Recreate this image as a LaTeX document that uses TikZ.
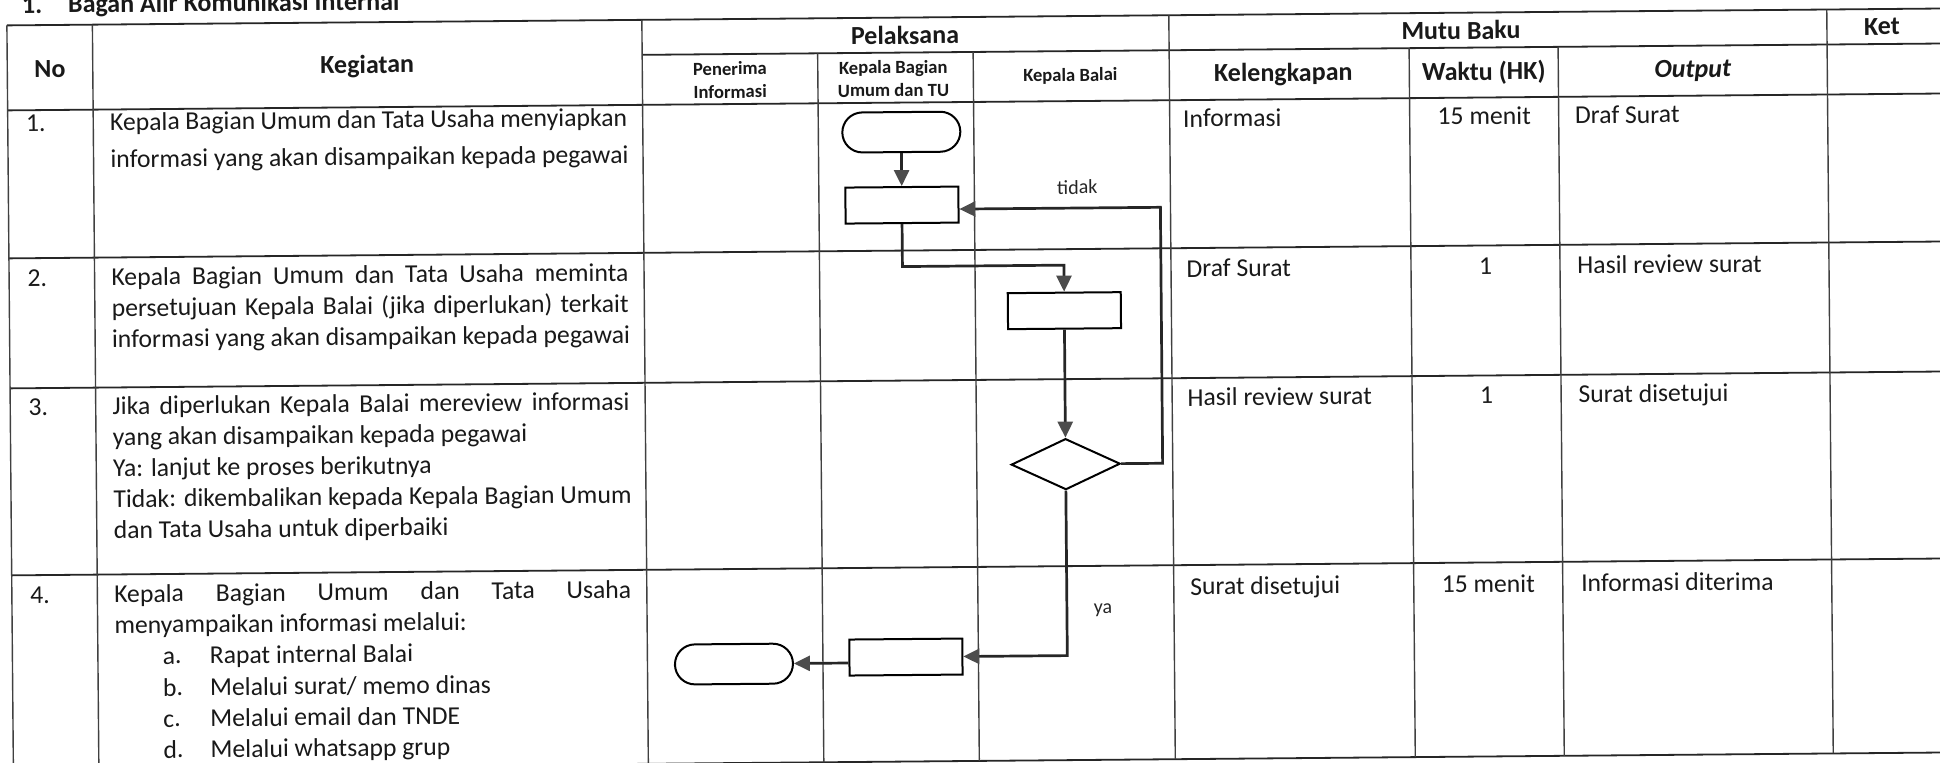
\documentclass[tikz,border=0pt]{standalone}
\usepackage{fontspec}
\setmainfont{Carlito}
\usetikzlibrary{arrows.meta,shapes.geometric}
\newcommand{\fBody}{\fontsize{12.85pt}{15.5pt}\selectfont}
\newcommand{\fHead}{\fontsize{13pt}{15.5pt}\selectfont\bfseries}
\newcommand{\fSub}{\fontsize{9.3pt}{11.5pt}\selectfont\bfseries}
\newcommand{\fLbl}{\fontsize{10pt}{12pt}\selectfont}
\newcommand{\jline}[1]{\makebox[258.5pt][s]{#1}}
\begin{document}
\begin{tikzpicture}[x=0.5pt,y=-0.5pt,
 hline/.style={draw=black!85, line width=0.9pt},
 vline/.style={draw=black!75, line width=0.7pt},
 txt/.style={anchor=base west, inner sep=0pt, font=\fBody, text=black!90},
 ctxt/.style={anchor=base, inner sep=0pt, font=\fBody, text=black!90},
 hdr/.style={anchor=center, inner sep=0pt, font=\fHead, text=black!90, align=center},
 subhdr/.style={anchor=center, inner sep=0pt, font=\fSub, text=black!90, align=center},
 lbl/.style={anchor=center, inner sep=0pt, font=\fLbl, text=black!85},
 termbox/.style={draw=black, line width=1pt, rounded corners=10pt, minimum width=59pt, minimum height=20pt, inner sep=0pt},
 procbox/.style={draw=black, line width=1pt, minimum width=56.5pt, minimum height=18pt, inner sep=0pt},
 decbox/.style={draw=black, line width=1pt, diamond, aspect=2.14, minimum width=54.5pt, minimum height=25.5pt, inner sep=0pt},
 flow/.style={draw=black!85, line width=1.35pt, -{Triangle[length=8pt,width=7.5pt,color=black!70]}},
]
\useasboundingbox (0,0) rectangle (1940,763);
\fill[white] (0,0) rectangle (1940,763);
\begin{scope}[rotate around={0.5:(970,381)}, transform shape]
% title
\node[txt, font=\fHead] (title1) at (25,5) {1.};
\node[txt, font=\fHead] (title2) at (71,5) {Bagan Alir Komunikasi Internal};
% table lines
\draw[hline] (10,17) -- (1960,17);
\draw[hline] (645,52) -- (1960,52);
\draw[hline] (10,102) -- (1960,102);
\draw[hline] (10,250) -- (1960,250);
\draw[hline] (10,380) -- (1960,380);
\draw[hline] (10,567) -- (1960,567);
\draw[hline] (10,761) -- (1960,761);
\draw[vline] (10,17) -- (10,761);
\draw[vline] (95.5,17) -- (95.5,761);
\draw[vline] (645,17) -- (645,761);
\draw[vline] (820.5,52) -- (820.5,761);
\draw[vline] (976,52) -- (976,761);
\draw[vline] (1172,17) -- (1172,761);
\draw[vline] (1412,52) -- (1412,761);
\draw[vline] (1561,52) -- (1561,761);
\draw[vline] (1830,17) -- (1830,761);
% headers
\node[hdr] (hNo) at (52.7,61) {No};
\node[hdr] (hKeg) at (370,61) {Kegiatan};
\node[hdr] (hPel) at (908,34.5) {Pelaksana};
\node[hdr] (hMutu) at (1464,34.5) {Mutu Baku};
\node[hdr] (hKet) at (1885,34.5) {Ket};
\node[subhdr] (hPen) at (732.7,78) {Penerima\\Informasi};
\node[subhdr] (hKB) at (896,78) {Kepala Bagian\\Umum dan TU};
\node[subhdr] (hBal) at (1073,77) {Kepala Balai};
\node[hdr] (hKel) at (1286,77) {Kelengkapan};
\node[hdr] (hWak) at (1486.5,77) {Waktu (HK)};
\node[hdr] (hOut) at (1695.5,77) {\itshape Output};
% row 1
\node[txt] (n1) at (28,123) {1.};
\node[txt] (t1a) at (112,123) {\jline{Kepala Bagian Umum dan Tata Usaha menyiapkan}};
\node[txt] (t1b) at (112,160) {informasi yang akan disampaikan kepada pegawai};
\node[txt] (k1) at (1185,129) {Informasi};
\node[ctxt] (w1) at (1486.5,129) {15 menit};
\node[txt] (o1) at (1577,129) {Draf Surat};
% row 2
\node[txt] (n2) at (28,278) {2.};
\node[txt] (t2a) at (112,278) {\jline{Kepala Bagian Umum dan Tata Usaha meminta}};
\node[txt] (t2b) at (112,309) {\jline{persetujuan Kepala Balai (jika diperlukan) terkait}};
\node[txt] (t2c) at (112,340) {informasi yang akan disampaikan kepada pegawai};
\node[txt] (k2) at (1187,279) {Draf Surat};
\node[ctxt] (w2) at (1486.5,279) {1};
\node[txt] (o2) at (1578,279) {Hasil review surat};
% row 3
\node[txt] (n3) at (28,407) {3.};
\node[txt] (t3a) at (112,407) {\jline{Jika diperlukan Kepala Balai mereview informasi}};
\node[txt] (t3b) at (112,438) {yang akan disampaikan kepada pegawai};
\node[txt] (t3c) at (112,469) {Ya: lanjut ke proses berikutnya};
\node[txt] (t3d) at (112,500) {Tidak: dikembalikan kepada Kepala Bagian Umum};
\node[txt] (t3e) at (112,531) {dan Tata Usaha untuk diperbaiki};
\node[txt] (k3) at (1187,408) {Hasil review surat};
\node[ctxt] (w3) at (1486.5,408) {1};
\node[txt] (o3) at (1578,408) {Surat disetujui};
% row 4
\node[txt] (n4) at (28,595) {4.};
\node[txt] (t4a) at (112,595) {\jline{Kepala Bagian Umum dan Tata Usaha}};
\node[txt] (t4b) at (112,626) {menyampaikan informasi melalui:};
\node[txt] (l4a) at (160,657) {a.};
\node[txt] (t4c) at (207,657) {Rapat internal Balai};
\node[txt] (l4b) at (160,689) {b.};
\node[txt] (t4d) at (207,689) {Melalui surat/ memo dinas};
\node[txt] (l4c) at (160,720) {c.};
\node[txt] (t4e) at (207,720) {Melalui email dan TNDE};
\node[txt] (l4d) at (160,751) {d.};
\node[txt] (t4f) at (207,751) {Melalui whatsapp grup};
\node[txt] (k4) at (1188,597) {Surat disetujui};
\node[ctxt] (w4) at (1486.5,597) {15 menit};
\node[txt] (o4) at (1579,597) {Informasi diterima};
% flowchart
\node[termbox] (start) at (903.5,131.5) {};
\node[procbox] (p1) at (903.5,204.5) {};
\node[procbox] (p2) at (1065,311.5) {};
\node[decbox] (dc) at (1065,465) {};
\node[procbox] (p3) at (903.5,656.5) {};
\node[termbox] (finish) at (731.5,662) {};
\coordinate (j1) at (1065,266);
\coordinate (l1) at (1162,209);
\draw[flow] (start.south) -- (p1.north);
\draw[flow] (p1.south) |- (j1) -- (p2.north);
\draw[flow] (p2.south) -- (dc.north);
\draw[flow] (dc.east) -| (l1) -- (p1.east |- l1);
\draw[flow] (dc.south) |- (p3.east);
\draw[flow] (p3.west |- finish.east) -- (finish.east);
\node[lbl] (tidak) at (1079,188) {tidak};
\node[lbl] (ya) at (1101,611) {ya};
\end{scope}
\end{tikzpicture}
\end{document}
